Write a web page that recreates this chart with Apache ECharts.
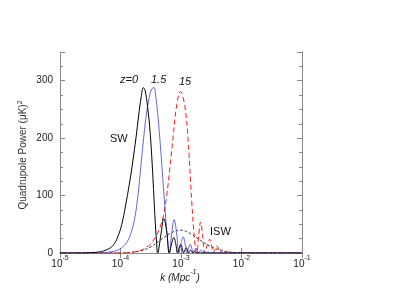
<!DOCTYPE html>
<html>
<head>
<meta charset="utf-8">
<script src="https://cdn.jsdelivr.net/npm/echarts@6/dist/echarts.min.js"></script>
<style>
html, body { margin: 0; padding: 0; background: #fff; }
#chart { width: 394px; height: 305px; }
</style>
</head>
<body>
<div id="chart"></div>
<script>
// wavenumber k (Mpc^-1) and quadrupole power (uK^2)

// z = 0, solid black
var kZ0 = [1e-5, 2e-5, 3e-5, 4.5e-5, 6e-5, 7.5e-5, 9e-5, 1.05e-4, 1.2e-4, 1.4e-4, 1.6e-4, 1.8e-4, 2.0e-4, 2.2e-4, 2.38e-4,
	2.55e-4, 2.8e-4, 3.1e-4, 3.4e-4, 3.7e-4, 3.95e-4, 4.1e-4,
	4.7e-4, 5.2e-4, 5.8e-4, 6.4e-4,
	7.0e-4, 7.6e-4, 8.2e-4, 8.75e-4,
	9.3e-4, 9.9e-4, 1.05e-3, 1.1e-3,
	1.16e-3, 1.22e-3, 1.28e-3, 1.33e-3,
	1.39e-3, 1.44e-3, 1.5e-3, 1.555e-3,
	1.61e-3, 1.67e-3, 1.72e-3, 1.78e-3,
	1.89e-3, 2.0e-3, 3e-3, 1e-1];
var pZ0 = [0, 0, 0.5, 2, 6, 13, 28, 50, 80, 120, 160, 200, 240, 272, 288,
	283, 255, 208, 140, 65, 18, 0,
	35, 60, 38, 0,
	16, 27, 16, 0,
	8, 15, 8, 0,
	5, 9, 5, 0,
	3, 5, 3, 0,
	2, 3, 2, 0,
	1.5, 0, 0, 0];

// z = 1.5, solid blue
var kZ15 = [1e-5, 3e-5, 5e-5, 7e-5, 9e-5, 1.1e-4, 1.3e-4, 1.5e-4, 1.7e-4, 1.9e-4, 2.1e-4, 2.35e-4, 2.65e-4, 3.0e-4, 3.3e-4, 3.58e-4,
	3.8e-4, 4.1e-4, 4.5e-4, 5.0e-4, 5.5e-4, 6.0e-4, 6.4e-4,
	7.0e-4, 7.7e-4, 8.5e-4, 9.2e-4,
	1.0e-3, 1.09e-3, 1.17e-3, 1.25e-3,
	1.33e-3, 1.42e-3, 1.51e-3, 1.6e-3,
	1.68e-3, 1.77e-3, 1.86e-3, 1.95e-3,
	2.04e-3, 2.12e-3, 2.21e-3, 2.3e-3,
	2.47e-3, 2.65e-3, 2.82e-3, 3.0e-3, 5e-3, 1e-1];
var pZ15 = [0, 0, 0.5, 2, 5, 11, 20, 36, 58, 92, 135, 188, 238, 272, 286, 288,
	275, 245, 195, 130, 70, 22, 0,
	33, 58, 33, 0,
	16, 28, 16, 0,
	8, 15, 8, 0,
	4, 8, 4, 0,
	3, 5, 3, 0,
	3, 0, 2, 0, 0, 0];

// z = 15, dashed red
var kZ150 = [1e-5, 1e-4, 1.4e-4, 2.1e-4, 3.08e-4, 3.98e-4, 4.5e-4, 5.13e-4, 5.8e-4, 6.58e-4, 7.46e-4, 8.5e-4, 9.8e-4,
	1.16e-3, 1.32e-3, 1.5e-3, 1.7e-3, 1.82e-3,
	1.96e-3, 2.11e-3, 2.28e-3, 2.46e-3,
	2.72e-3, 3.0e-3, 3.2e-3, 3.42e-3,
	3.65e-3, 3.89e-3, 4.2e-3, 4.4e-3,
	4.8e-3, 5.2e-3, 5.8e-3, 6.4e-3, 7e-3, 8e-3, 1e-2, 1e-1];
var pZ150 = [0, 0, 1, 4, 15, 32, 45, 65, 100, 150, 205, 258, 281,
	255, 191, 92, 16, 0,
	30, 54, 30, 0,
	14, 24, 14, 0,
	7, 12, 7, 0,
	6, 0, 3, 0, 1, 0, 0, 0];

// ISW contribution, short-dashed black
var kIsw = [1e-5, 1e-4, 1.4e-4, 2.1e-4, 3.08e-4, 4.5e-4, 6.58e-4, 9.8e-4, 1.41e-3, 2.1e-3, 3.0e-3, 4.6e-3, 6.5e-3, 1e-2, 1e-1];
var pIsw = [0, 0, 1, 3.5, 10, 22, 34, 40, 34, 22, 12, 4.5, 1.5, 0.5, 0];

var xTicks = [1e-5, 1e-4, 1e-3, 1e-2, 1e-1];
var yTicks = [0, 100, 200, 300];

var byId = function(id) {
	return document.getElementById(id);
};

function pairs(ks, ps) {
	var out = [];
	for (var i = 0; i < ks.length; i++) {
		out.push([ks[i], ps[i]]);
	}
	return out;
}

var font = 'Liberation Sans, Arial, sans-serif';
var frame = '#8a8a8a';

function xLabel(v) {
	var e = Math.round(Math.log(v) / Math.LN10);
	return '{b|10}{s|' + e + '}';
}

var chartOption = {
	animation: false,
	backgroundColor: '#fff',
	grid: { left: 60, right: 92, top: 52, bottom: 52 },
	xAxis: [{
		type: 'log',
		logBase: 10,
		min: xTicks[0],
		max: xTicks[xTicks.length - 1],
		axisLine: { lineStyle: { color: frame, width: 1 } },
		axisTick: { inside: true, length: 5, lineStyle: { color: frame } },
		splitLine: { show: false },
		axisLabel: {
			margin: 2,
			formatter: xLabel,
			rich: {
				b: { fontFamily: font, fontSize: 10, color: '#222', lineHeight: 14, verticalAlign: 'bottom' },
				s: { fontFamily: font, fontSize: 7, color: '#222', lineHeight: 14, verticalAlign: 'top', padding: [0, 0, 6, 0] }
			}
		}
	}, {
		type: 'log',
		logBase: 10,
		position: 'top',
		min: xTicks[0],
		max: xTicks[xTicks.length - 1],
		axisLine: { show: true, lineStyle: { color: frame, width: 1 } },
		axisTick: { inside: true, length: 5, lineStyle: { color: frame } },
		axisLabel: { show: false },
		splitLine: { show: false }
	}],
	yAxis: [{
		type: 'value',
		min: 0,
		max: 350,
		interval: 100,
		axisLine: { show: true, lineStyle: { color: frame, width: 1 } },
		axisTick: { show: true, inside: true, length: 5, lineStyle: { color: frame } },
		minorTick: { show: true, splitNumber: 4, length: 3, lineStyle: { color: frame } },
		splitLine: { show: false },
		axisLabel: { fontFamily: font, fontSize: 10, color: '#222', margin: 7, showMaxLabel: false }
	}, {
		type: 'value',
		position: 'right',
		min: 0,
		max: 350,
		interval: 100,
		axisLine: { show: true, lineStyle: { color: frame, width: 1 } },
		axisTick: { show: true, inside: true, length: 5, lineStyle: { color: frame } },
		minorTick: { show: true, splitNumber: 4, length: 3, lineStyle: { color: frame } },
		splitLine: { show: false },
		axisLabel: { show: false }
	}],
	series: [{
		name: 'ISW',
		type: 'line',
		data: pairs(kIsw, pIsw),
		symbol: 'none',
		smooth: 0.4,
		lineStyle: { color: '#222', width: 0.9, type: [2.5, 2] },
		z: 2
	}, {
		name: 'z=15',
		type: 'line',
		data: pairs(kZ150, pZ150),
		symbol: 'none',
		smooth: 0.4,
		lineStyle: { color: '#ff1a1a', width: 1, type: [5, 3] },
		z: 3
	}, {
		name: 'z=1.5',
		type: 'line',
		data: pairs(kZ15, pZ15),
		symbol: 'none',
		smooth: 0.4,
		lineStyle: { color: '#3b3bf0', width: 0.8 },
		z: 4
	}, {
		name: 'z=0',
		type: 'line',
		data: pairs(kZ0, pZ0),
		symbol: 'none',
		smooth: 0.4,
		lineStyle: { color: '#000', width: 1 },
		z: 5
	}],
	graphic: [
		{ type: 'text', left: 120, top: 74, style: { text: 'z=0', font: 'italic 11px ' + font, fill: '#111' } },
		{ type: 'text', left: 151, top: 74, style: { text: '1.5', font: 'italic 11px ' + font, fill: '#111' } },
		{ type: 'text', left: 179, top: 76, style: { text: '15', font: 'italic 11px ' + font, fill: '#111' } },
		{ type: 'text', left: 110, top: 133, style: { text: 'SW', font: '11px ' + font, fill: '#111' } },
		{ type: 'text', left: 210, top: 226, style: { text: 'ISW', font: '11px ' + font, fill: '#111' } },
		// axis titles
		{
			type: 'text', x: 23, y: 155, rotation: Math.PI / 2,
			style: {
				text: 'Quadrupole Power (μK){s|2}', align: 'center', verticalAlign: 'middle',
				font: '10px ' + font, fill: '#333',
				rich: { s: { fontFamily: font, fontSize: 7, fill: '#333', verticalAlign: 'top', padding: [0, 0, 6, 0] } }
			}
		},
		{
			type: 'text', x: 180, y: 276,
			style: {
				text: '{i|k (Mpc}{s|-1}{i|)}', align: 'center', verticalAlign: 'middle',
				rich: {
					i: { fontFamily: font, fontSize: 10, fontStyle: 'italic', fill: '#222', lineHeight: 14, verticalAlign: 'bottom' },
					s: { fontFamily: font, fontSize: 7, fontStyle: 'italic', fill: '#222', lineHeight: 14, verticalAlign: 'top', padding: [0, 0, 6, 0] }
				}
			}
		}
	]
};

var chart = echarts.init(byId('chart'));
chart.setOption(chartOption);
</script>
</body>
</html>
